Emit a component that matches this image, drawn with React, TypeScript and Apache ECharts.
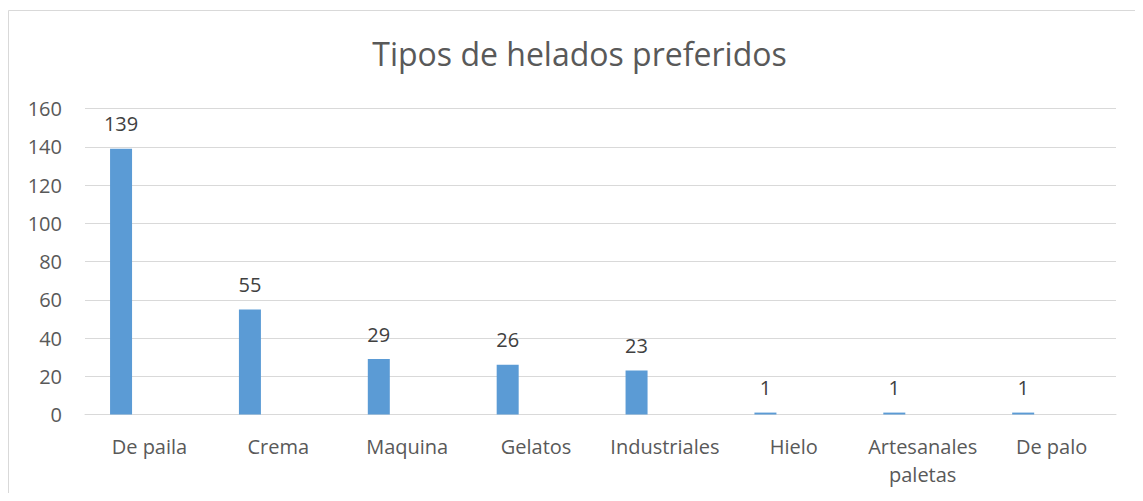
import React, { useEffect, useRef } from "react";
import * as echarts from "echarts";

const categories = ["De paila", "Crema", "Maquina", "Gelatos", "Industriales", "Hielo", "Artesanales\npaletas", "De palo"];
const values = [139, 55, 29, 26, 23, 1, 1, 1];
const emptySeries = [null, null, null, null, null, null, null, null];
const titleText = "Tipos de helados preferidos";

const FONT = "'Open Sans', 'Noto Sans', sans-serif";

export default function App() {
  const ref = useRef<HTMLDivElement>(null);
  useEffect(() => {
    if (!ref.current) return;
    const chart = echarts.init(ref.current, null, { renderer: "svg" });
    chart.setOption({
      animation: false,
      backgroundColor: "#ffffff",
      textStyle: { fontFamily: FONT },
      graphic: [
        {
          type: "rect",
          shape: { x: 0.5, y: 2.5, width: 1300, height: 700 },
          style: { fill: "none", stroke: "#d9d9d9", lineWidth: 1 },
          silent: true,
          z: -1,
        },
        {
          type: "text",
          x: 571.5,
          y: 45,
          style: {
            text: titleText,
            fontFamily: FONT,
            fontSize: 32,
            fill: "#595959",
            textAlign: "center",
            textVerticalAlign: "middle",
          },
        },
      ],
      grid: { left: 77, right: 19, top: 100.7, bottom: 78.5, containLabel: false },
      xAxis: {
        type: "category",
        data: categories,
        axisLine: { show: true, lineStyle: { color: "#d9d9d9", width: 1 } },
        axisTick: { show: false },
        axisLabel: {
          color: "#595959",
          fontSize: 20,
          fontFamily: FONT,
          margin: 18,
          lineHeight: 28,
          interval: 0,
        },
        splitLine: { show: false },
      },
      yAxis: {
        type: "value",
        min: 0,
        max: 160,
        interval: 20,
        axisLine: { show: false },
        axisTick: { show: false },
        axisLabel: { color: "#595959", fontSize: 20, fontFamily: FONT, margin: 23 },
        splitLine: { show: true, lineStyle: { color: "#d9d9d9", width: 1 } },
      },
      series: [
        {
          type: "bar",
          data: values,
          barWidth: 22,
          barGap: "158%",
          itemStyle: { color: "#5b9bd5" },
          label: {
            show: true,
            position: "top",
            distance: 13,
            color: "#404040",
            fontSize: 20,
            lineHeight: 24,
            fontFamily: FONT,
          },
        },
        {
          type: "bar",
          data: emptySeries,
          barWidth: 22,
          itemStyle: { color: "#ed7d31" },
        },
      ],
    });
    return () => chart.dispose();
  }, []);
  return <div ref={ref} style={{ width: 1127, height: 485 }} />;
}
